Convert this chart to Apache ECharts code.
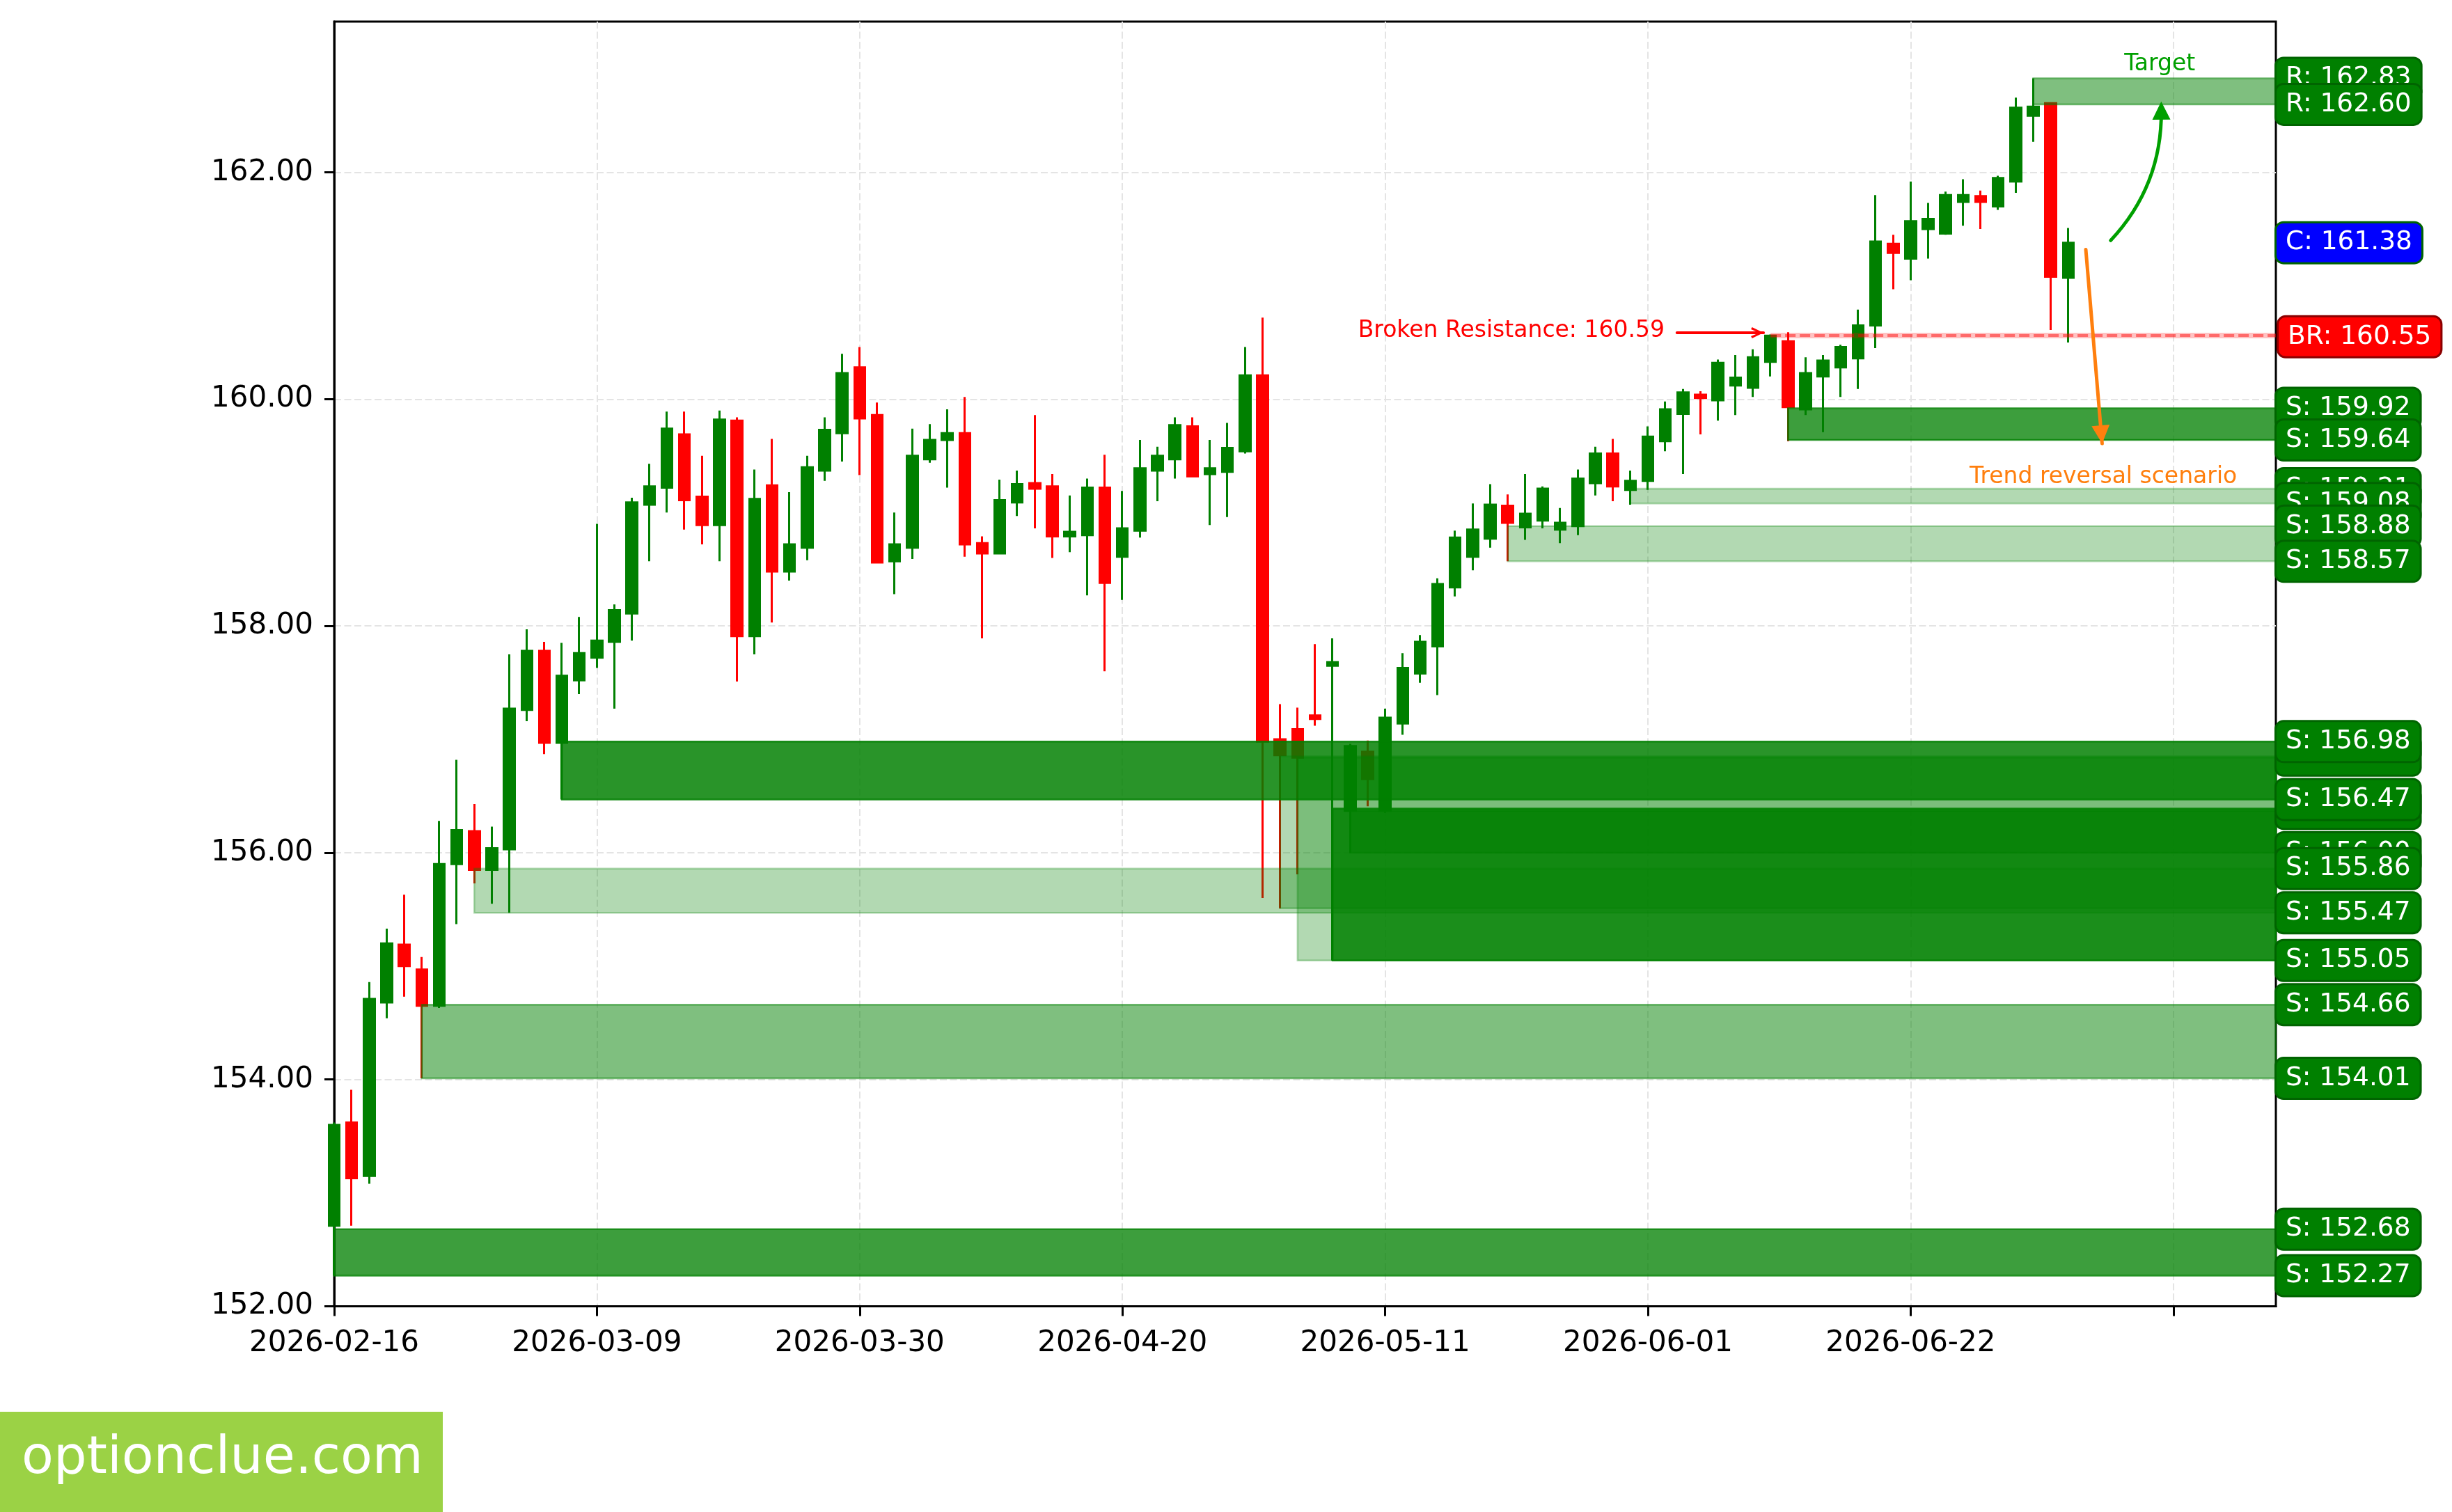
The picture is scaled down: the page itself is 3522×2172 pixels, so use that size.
<!DOCTYPE html>
<html>
<head>
<meta charset="utf-8">
<style>
html, body { margin: 0; padding: 0; background: #fff; }
#chart { width: 3522px; height: 2172px; }
</style>
<script src="https://cdn.jsdelivr.net/npm/echarts@6/dist/echarts.min.js"></script>
</head>
<body>
<div id="chart"></div>
<script>
// daily candles, one per trading day (x = day index)
var opens = [152.71, 153.62, 153.15, 154.68, 155.19, 154.97, 154.65, 155.90, 156.19, 155.85,
  156.03, 157.26, 157.78, 156.97, 157.52, 157.72, 157.86, 158.11, 159.07, 159.22,
  159.69, 159.14, 158.89, 159.81, 157.91, 159.24, 158.48, 158.69, 159.37, 159.70,
  160.28, 159.86, 158.57, 158.69, 159.47, 159.64, 159.70, 158.73, 158.64, 159.09,
  159.26, 159.23, 158.79, 158.80, 159.22, 158.61, 158.84, 159.37, 159.47, 159.76,
  159.34, 159.36, 159.54, 160.21, 157.00, 157.09, 157.21, 157.65, 156.37, 156.89,
  156.37, 157.14, 157.58, 157.82, 158.34, 158.61, 158.77, 159.06, 158.87, 158.93,
  158.85, 158.88, 159.26, 159.52, 159.20, 159.28, 159.63, 159.87, 160.04, 159.99,
  160.12, 160.10, 160.33, 160.51, 159.91, 160.20, 160.28, 160.36, 160.65, 161.37,
  161.24, 161.50, 161.46, 161.74, 161.79, 161.70, 161.92, 162.50, 162.61, 161.07];
var closes = [153.60, 153.13, 154.71, 155.20, 155.00, 154.65, 155.90, 156.20, 155.85, 156.04,
  157.27, 157.78, 156.97, 157.56, 157.76, 157.87, 158.14, 159.09, 159.23, 159.74,
  159.11, 158.89, 159.82, 157.91, 159.12, 158.48, 158.72, 159.40, 159.73, 160.23,
  159.83, 158.56, 158.72, 159.50, 159.64, 159.70, 158.72, 158.64, 159.11, 159.25,
  159.21, 158.79, 158.83, 159.22, 158.38, 158.86, 159.39, 159.50, 159.77, 159.32,
  159.39, 159.57, 160.21, 156.98, 156.86, 156.84, 157.18, 157.68, 156.94, 156.65,
  157.19, 157.63, 157.86, 158.37, 158.78, 158.85, 159.07, 158.91, 158.99, 159.21,
  158.91, 159.30, 159.52, 159.23, 159.28, 159.67, 159.91, 160.06, 160.01, 160.32,
  160.19, 160.37, 160.56, 159.93, 160.23, 160.34, 160.46, 160.65, 161.39, 161.29,
  161.57, 161.59, 161.80, 161.80, 161.74, 161.95, 162.57, 162.58, 161.08, 161.38];
var lows = [152.27, 152.71, 153.08, 154.54, 154.73, 154.01, 154.63, 155.37, 155.73, 155.55,
  155.47, 157.16, 156.87, 156.47, 157.40, 157.63, 157.27, 157.87, 158.57, 159.00,
  158.85, 158.72, 158.57, 157.51, 157.75, 158.03, 158.40, 158.58, 159.28, 159.45,
  159.33, 158.55, 158.28, 158.59, 159.44, 159.22, 158.61, 157.89, 158.63, 158.97,
  158.86, 158.60, 158.65, 158.27, 157.60, 158.23, 158.78, 159.10, 159.30, 159.31,
  158.89, 158.96, 159.52, 155.60, 155.51, 155.81, 157.12, 155.05, 156.00, 156.41,
  156.35, 157.04, 157.50, 157.39, 158.26, 158.49, 158.69, 158.57, 158.76, 158.86,
  158.73, 158.80, 159.15, 159.10, 159.07, 159.20, 159.54, 159.34, 159.69, 159.81,
  159.86, 160.02, 160.20, 159.63, 159.86, 159.71, 160.02, 160.09, 160.45, 160.97,
  161.05, 161.24, 161.45, 161.53, 161.50, 161.67, 161.82, 162.27, 160.61, 160.50];
var highs = [153.62, 153.91, 154.86, 155.33, 155.63, 155.08, 156.28, 156.82, 156.43, 156.23,
  157.75, 157.97, 157.86, 157.85, 158.08, 158.90, 158.19, 159.13, 159.43, 159.89,
  159.89, 159.50, 159.90, 159.84, 159.38, 159.65, 159.18, 159.50, 159.84, 160.40,
  160.46, 159.97, 159.00, 159.74, 159.78, 159.91, 160.02, 158.79, 159.29, 159.37,
  159.86, 159.34, 159.15, 159.30, 159.51, 159.19, 159.64, 159.58, 159.84, 159.84,
  159.64, 159.79, 160.46, 160.72, 157.31, 157.28, 157.84, 157.89, 156.96, 156.99,
  157.27, 157.76, 157.92, 158.42, 158.84, 159.08, 159.25, 159.16, 159.34, 159.23,
  159.04, 159.38, 159.58, 159.65, 159.37, 159.76, 159.98, 160.09, 160.07, 160.35,
  160.39, 160.44, 160.57, 160.59, 160.37, 160.39, 160.48, 160.79, 161.80, 161.45,
  161.92, 161.73, 161.83, 161.94, 161.84, 161.97, 162.66, 162.83, 162.62, 161.51];

// x tick labels every 15 trading days
var tickPos = [0, 15, 30, 45, 60, 75, 90, 105];
var tickLabels = ['2026-02-16', '2026-03-09', '2026-03-30', '2026-04-20', '2026-05-11', '2026-06-01', '2026-06-22', ''];
var yTicks = [152, 154, 156, 158, 160, 162];

// support / resistance zones
var zoneStart = [0, 5, 8, 13, 54, 55, 57, 58, 67, 74, 83, 97];
var zoneLow   = [152.27, 154.01, 155.47, 156.47, 155.51, 155.05, 155.05, 156.00, 158.57, 159.08, 159.64, 162.60];
var zoneHigh  = [152.68, 154.66, 155.86, 156.98, 156.85, 156.84, 156.39, 156.37, 158.88, 159.21, 159.92, 162.83];
var zoneAlpha = [0.76, 0.5, 0.3, 0.84, 0.3, 0.3, 0.85, 0.5, 0.3, 0.3, 0.76, 0.5];

// price tags on the right (drawn in this order, later ones on top)
var levelValues = [162.83, 162.60, 161.38, 160.55, 159.92, 159.64, 159.21, 159.08, 158.88, 158.57,
  156.86, 156.98, 156.39, 156.47, 156.00, 155.86, 155.47,
  155.05, 154.66, 154.01, 152.68, 152.27];
var levelTags = ['R', 'R', 'C', 'BR', 'S', 'S', 'S', 'S', 'S', 'S',
  'S', 'S', 'S', 'S', 'S', 'S', 'S',
  'S', 'S', 'S', 'S', 'S'];

var brStart = 82, brLevel = 160.56;
var xMax = 110.85;

var chart = echarts.init(document.getElementById('chart'));

var candles = opens.map(function (o, i) { return [i, o, closes[i], lows[i], highs[i]]; });

function green(a) { return 'rgba(0,128,0,' + a + ')'; }

var zoneData = zoneStart.map(function (s, i) {
    return [
        { xAxis: s, yAxis: zoneLow[i], itemStyle: { color: green(zoneAlpha[i]), borderColor: green(zoneAlpha[i]), borderWidth: 2.5 } },
        { xAxis: xMax, yAxis: zoneHigh[i] }
    ];
});

var levelData = levelValues.map(function (v, i) {
    var t = levelTags[i];
    var bg = t === 'C' ? '#0000FF' : (t === 'BR' ? '#FF0000' : '#008000');
    var bd = t === 'BR' ? '#8B0000' : '#006400';
    return {
        yAxis: v,
        label: { formatter: t + ': ' + v.toFixed(2), backgroundColor: bg, borderColor: bd, distance: t === 'BR' ? 4 : 1 }
    };
});

var chevron = 'path://M8,0 L16,16 L13,17.5 L8,6 L3,17.5 L0,16 Z';

var annotLines = [
    [{ coord: [brStart, brLevel], lineStyle: { color: 'rgba(255,0,0,0.24)', width: 8, type: 'solid' } },
     { coord: [xMax, brLevel] }],
    [{ coord: [brStart, brLevel], lineStyle: { color: 'rgba(255,0,0,0.45)', width: 4, type: [15, 6] } },
     { coord: [xMax, brLevel] }],
    [{ coord: [76.66, 160.586], lineStyle: { color: '#FF0000', width: 4, type: 'solid', cap: 'round' } },
     { coord: [81.6, 160.586], symbol: chevron, symbolSize: [16, 18], symbolOffset: [0, 9] }],
    [{ coord: [100.0, 161.32], lineStyle: { color: '#FF7F0E', width: 5, type: 'solid', cap: 'round' } },
     { coord: [100.93, 159.609], symbol: 'triangle', symbolSize: [26, 26], symbolOffset: [0, 13] }]
];

// curved "target" arrow (tip end pulled back by half the head length)
var targetArrow = [[101.42, 161.40], [104.31, 162.545]];

var annotTexts = [
    { coord: [75.95, 160.604], label: { show: true, position: 'left', distance: 0, formatter: 'Broken Resistance: 160.59', color: '#FF0000', fontSize: 33 } },
    { coord: [104.22, 162.953], label: { show: true, position: 'inside', formatter: 'Target', color: '#00A000', fontSize: 33 } },
    { coord: [101.0, 159.31], label: { show: true, position: 'inside', formatter: 'Trend reversal scenario', color: '#FF7F0E', fontSize: 33 } }
];

var option = {
    animation: false,
    backgroundColor: '#ffffff',
    textStyle: { fontFamily: 'DejaVu Sans' },
    grid: {
        left: 480, top: 31, width: 2789, height: 1845.5,
        show: true, borderColor: '#000', borderWidth: 3, backgroundColor: 'transparent',
        outerBoundsMode: 'none', containLabel: false
    },
    xAxis: {
        type: 'value', min: 0, max: xMax, interval: 15,
        axisLine: { show: true, lineStyle: { color: '#000', width: 3 } },
        axisTick: { show: true, length: 14, customValues: tickPos, lineStyle: { color: '#000', width: 3 } },
        axisLabel: {
            show: true, customValues: tickPos, margin: 33, color: '#000', fontSize: 42, fontFamily: 'DejaVu Sans',
            formatter: function (v) {
                var k = tickPos.indexOf(Math.round(v));
                return (k >= 0 && Math.abs(v - Math.round(v)) < 1e-6) ? tickLabels[k] : '';
            }
        },
        splitLine: { show: true, lineStyle: { color: '#e4e4e4', width: 2, type: [10, 4.5] } }
    },
    yAxis: {
        type: 'value', min: 152, max: 163.33, interval: 2, scale: true,
        axisLine: { show: true, lineStyle: { color: '#000', width: 3 } },
        axisTick: { show: true, length: 14, customValues: yTicks, lineStyle: { color: '#000', width: 3 } },
        axisLabel: {
            show: true, customValues: yTicks, margin: 30, color: '#000', fontSize: 42, fontFamily: 'DejaVu Sans',
            formatter: function (v) {
                return yTicks.indexOf(Math.round(v)) >= 0 && Math.abs(v - Math.round(v)) < 1e-6 ? v.toFixed(2) : '';
            }
        },
        splitLine: { show: true, lineStyle: { color: '#e4e4e4', width: 2, type: [10, 4.5] } }
    },
    series: [
        {
            type: 'candlestick',
            data: candles,
            barWidth: 16,
            itemStyle: {
                color: '#008000', color0: '#FF0000',
                borderColor: '#008000', borderColor0: '#FF0000', borderWidth: 3
            },
            z: 2
        },
        {
            name: 'zones', type: 'line', data: [], symbol: 'none',
            markArea: { z: 3, silent: true, label: { show: false }, data: zoneData }
        },
        {
            name: 'annotations', type: 'line', data: [], symbol: 'none', clip: false,
            markLine: {
                silent: true, symbol: ['none', 'none'], label: { show: false },
                data: annotLines
            },
            markPoint: {
                silent: true, symbol: 'circle', symbolSize: 0, itemStyle: { color: 'rgba(0,0,0,0)' },
                data: annotTexts
            }
        },
        {
            name: 'target', type: 'lines', coordinateSystem: 'cartesian2d', z: 6, silent: true,
            symbol: ['none', 'triangle'], symbolSize: 26,
            lineStyle: { color: '#00A000', width: 5, opacity: 1, curveness: -0.2, cap: 'round' },
            data: [{ coords: targetArrow }]
        },
        {
            name: 'levels', type: 'line', data: [], symbol: 'none', clip: false,
            markLine: {
                silent: true, symbol: ['none', 'none'],
                lineStyle: { color: 'rgba(0,0,0,0)', width: 1, opacity: 1 },
                label: {
                    show: true, position: 'end', color: '#fff', fontSize: 37.5, fontFamily: 'DejaVu Sans',
                    lineHeight: 40, padding: [8, 13, 8, 13], borderRadius: 10, borderWidth: 3
                },
                data: levelData
            }
        }
    ],
    graphic: [
        { type: 'rect', left: 0, top: 2028, shape: { width: 636, height: 144 }, style: { fill: '#9BD245' } },
        { type: 'text', x: 31, y: 2097, style: { text: 'optionclue.com', fill: '#ffffff', font: '75px "DejaVu Sans"', verticalAlign: 'middle', align: 'left' } }
    ]
};

chart.setOption(option);
</script>
</body>
</html>
